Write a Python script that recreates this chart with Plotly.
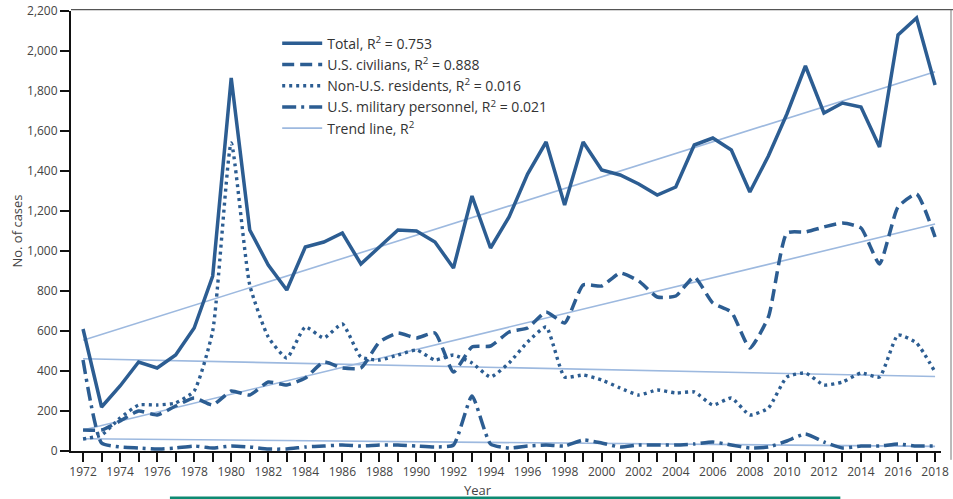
import numpy as np
import plotly.graph_objects as go

years = list(range(1972, 2019))

total = [610, 220, 325, 445, 415, 480, 615, 875, 1865, 1105, 930, 805, 1020, 1045, 1090,
         935, 1020, 1105, 1100, 1045, 915, 1275, 1015, 1170, 1385, 1545, 1230, 1545, 1405,
         1380, 1335, 1280, 1320, 1530, 1565, 1505, 1295, 1475, 1685, 1925, 1690, 1740, 1720,
         1520, 2080, 2165, 1830]

civilians = [105, 105, 150, 200, 180, 225, 265, 230, 300, 280, 345, 330, 365, 445, 415,
             415, 545, 590, 565, 590, 395, 520, 525, 595, 615, 695, 640, 830, 825,
             890, 850, 770, 775, 870, 740, 695, 515, 670, 1090, 1095, 1120, 1140, 1115,
             935, 1220, 1285, 1070]

non_us = [60, 80, 165, 230, 230, 240, 300, 600, 1540, 830, 570, 465, 620, 565, 635,
          470, 455, 480, 505, 455, 480, 440, 370, 440, 545, 620, 370, 380, 355,
          315, 280, 305, 290, 295, 230, 265, 180, 215, 370, 390, 330, 345, 390,
          370, 580, 540, 395]

military = [455, 40, 20, 15, 10, 15, 25, 15, 25, 20, 10, 10, 20, 25, 30,
            25, 30, 30, 25, 20, 30, 275, 35, 15, 25, 30, 25, 55, 40,
            20, 30, 30, 30, 35, 45, 30, 15, 20, 50, 85, 45, 15, 25,
            25, 35, 25, 25]

series_names = ["Total, R<sup>2</sup> = 0.753",
                "U.S. civilians, R<sup>2</sup> = 0.888",
                "Non-U.S. residents, R<sup>2</sup> = 0.016",
                "U.S. military personnel, R<sup>2</sup> = 0.021"]
trend_name = "Trend line, R<sup>2</sup>"

y_ticks = list(range(0, 2201, 200))
x_tick_labels = [str(y) if y % 2 == 0 else "" for y in years]

DARK = "#2C5D92"
LIGHT = "#9DB9DF"

fig = go.Figure()

series = [total, civilians, non_us, military]

# linear trend lines fitted to each series (drawn first, beneath)
xa = np.array(years, dtype=float)
for i, vals in enumerate(series):
    slope, intercept = np.polyfit(xa, np.array(vals, dtype=float), 1)
    xs = [years[0], years[-1]]
    ys = [slope * x + intercept for x in xs]
    fig.add_trace(go.Scatter(
        x=xs, y=ys, mode="lines", name=trend_name,
        legendgroup="trend", showlegend=(i == 0), legendrank=1005,
        line=dict(color=LIGHT, width=1.6), hoverinfo="skip"))

dashes = ["solid", "12px,6px", "3px,4px", "14px,5px,3px,5px"]
widths = [3.5, 3.5, 3.4, 3.5]
shapes_line = ["linear", "spline", "spline", "spline"]

for k, (vals, name, dash, w, shp) in enumerate(zip(series, series_names, dashes, widths, shapes_line)):
    fig.add_trace(go.Scatter(
        x=years, y=vals, mode="lines", name=name, legendrank=1001 + k,
        line=dict(color=DARK, width=w, dash=dash, shape=shp, smoothing=0.5),
        hoverinfo="skip"))

fig.update_layout(
    width=953, height=499,
    margin=dict(l=71, r=12, t=11, b=48),
    paper_bgcolor="white", plot_bgcolor="white",
    font=dict(family="Open Sans, sans-serif", color="#444", size=12),
    showlegend=True,
    hovermode=False,
    legend=dict(x=0.237, y=0.962, xanchor="left", yanchor="top",
                traceorder="normal", bgcolor="rgba(0,0,0,0)",
                font=dict(size=14, color="#333"), itemwidth=40,
                tracegroupgap=0),
    xaxis=dict(range=[1971.35, 2018.32], tickvals=years, ticktext=x_tick_labels,
               ticks="outside", ticklen=9, tickwidth=1.5, tickcolor="#111",
               showline=True, linecolor="#111", linewidth=2, showgrid=False,
               zeroline=False, automargin=False, ticklabeloverflow="allow",
               tickfont=dict(size=12, color="#444")),
    yaxis=dict(range=[0, 2200], tickvals=y_ticks,
               ticktext=[f"{v:,}" for v in y_ticks],
               ticks="outside", ticklen=9, tickwidth=1.5, tickcolor="#111",
               showline=True, linecolor="#111", linewidth=2, showgrid=False,
               zeroline=False, automargin=False, ticklabeloverflow="allow",
               tickfont=dict(size=12, color="#444"),
               title=dict(text="No. of cases", font=dict(size=13, color="#444"),
                          standoff=1)),
    annotations=[dict(text="Year", x=0.468, y=-0.088, xref="paper", yref="paper",
                      showarrow=False, font=dict(size=13, color="#444"),
                      xanchor="center", yanchor="middle")],
    shapes=[
        dict(type="line", xref="paper", yref="paper", x0=0, x1=1.02, y0=1.003, y1=1.003,
             line=dict(color="#555", width=1.2)),
        dict(type="line", xref="paper", yref="paper", x0=1.0115, x1=1.0115, y0=1.003, y1=-0.02,
             line=dict(color="#777", width=1)),
        dict(type="rect", xref="paper", yref="paper", x0=0.116, x1=0.882, y0=-0.108, y1=-0.25,
             line=dict(color="#0E8A72", width=4), fillcolor="#F4FAF8", layer="above"),
    ],
)

fig.write_html("out.html", config={"displayModeBar": False},
               post_script="document.body.style.margin='0';document.body.style.padding='0';")
